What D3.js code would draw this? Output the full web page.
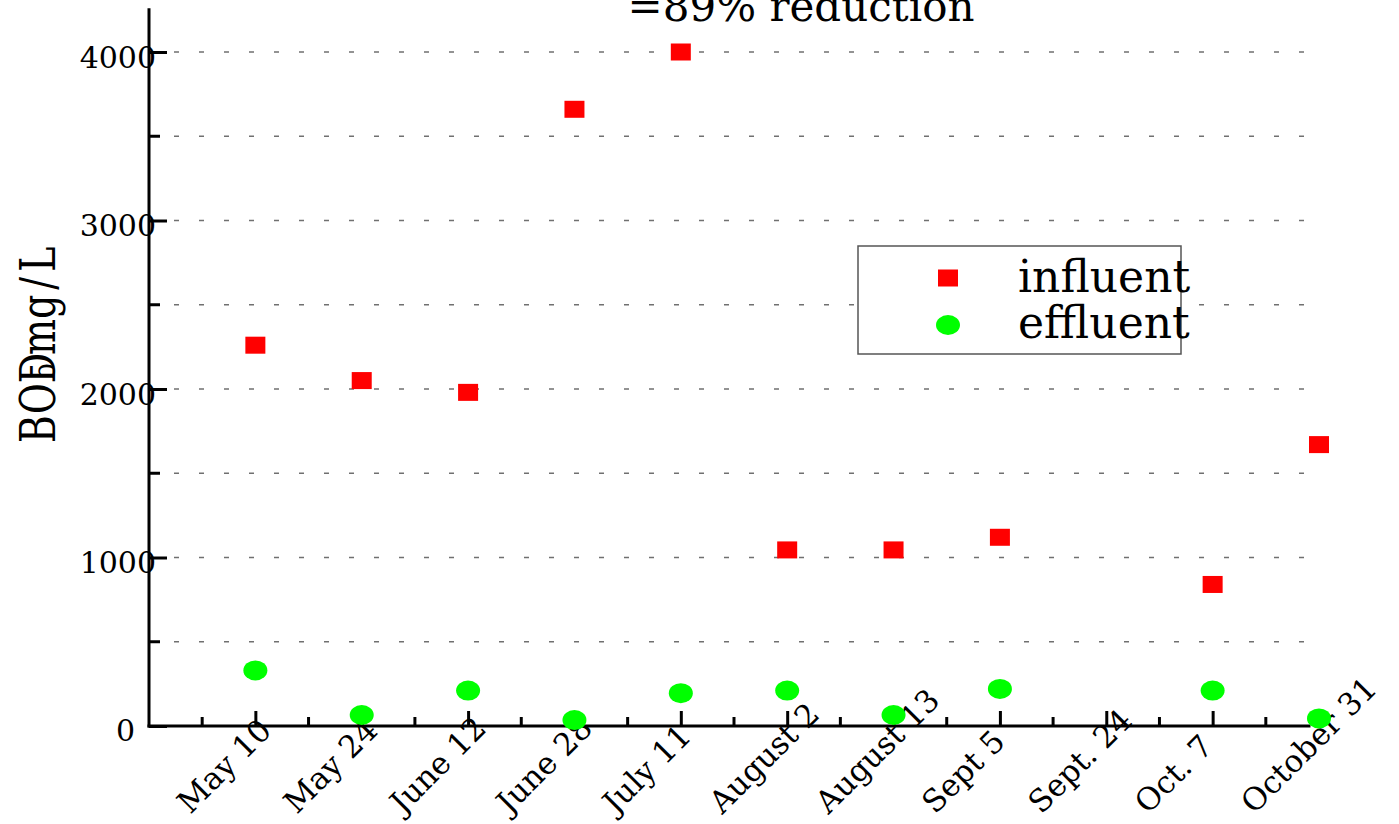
<!DOCTYPE html>
<html>
<head>
<meta charset="utf-8">
<script src="https://cdn.jsdelivr.net/npm/d3@7"></script>
<style>
  html, body { margin: 0; padding: 0; background: #fff; }
  svg { display: block; }
  text { font-family: "DejaVu Serif", serif; fill: #000; }
</style>
</head>
<body>
<svg id="chart" width="1399" height="824"></svg>
<script>
// ---- data ----
const categories = ["May 10", "May 24", "June 12", "June 28", "July 11", "August 2",
                    "August 13", "Sept 5", "Sept. 24", "Oct. 7", "October 31"];
const influent = [2260, 2050, 1980, 3660, 4000, 1045, 1045, 1120, null, 840, 1670];
const effluent = [330, 65, 210, 35, 195, 210, 65, 220, null, 210, 45];
const yMajorTicks = [0, 1000, 2000, 3000, 4000];
const yMinorTicks = [500, 1500, 2500, 3500];
const gridValues = [500, 1000, 1500, 2000, 2500, 3000, 3500, 4000];
const seriesNames = ["influent", "effluent"];
const titleText = "=89% reduction";

// ---- layout ----
const svg = d3.select("#chart");
const x = d3.scaleLinear().domain([0, categories.length]).range([149, 1319]);
const y = d3.scaleLinear().domain([0, 4000]).range([726, 52]);
const xAxisEnd = 10.92;   // axis line stops just short of the last category
const yAxisTop = 4260;

// grid lines
svg.append("g").selectAll("line").data(gridValues).join("line")
  .attr("x1", x(0)).attr("x2", x(xAxisEnd) - 3)
  .attr("y1", d => y(d)).attr("y2", d => y(d))
  .attr("stroke", "#707070").attr("stroke-width", 1.6)
  .attr("stroke-dasharray", "5,20");

// y axis
const yAxis = d3.axisLeft(y).tickValues(yMajorTicks).tickSizeInner(-18).tickSizeOuter(0)
  .tickPadding(-7).tickFormat(d3.format("d"));
const gy = svg.append("g").attr("transform", `translate(${x(0)},0)`).call(yAxis);
gy.select(".domain").remove();
gy.selectAll(".tick line").attr("stroke", "#000").attr("stroke-width", 3);
gy.selectAll(".tick text")
  .attr("font-family", "DejaVu Serif").attr("font-size", 30)
  .attr("dy", "0.5em")
  .attr("x", d => d === 0 ? -14 : 7);
gy.selectAll(".tick").filter(d => d === 0).select("text").attr("dy", "0.47em");
svg.append("g").selectAll("line").data(yMinorTicks).join("line")
  .attr("x1", x(0)).attr("x2", x(0) + 11)
  .attr("y1", d => y(d)).attr("y2", d => y(d))
  .attr("stroke", "#000").attr("stroke-width", 3);
svg.append("line")
  .attr("x1", x(0)).attr("x2", x(0))
  .attr("y1", y(0) + 1.5).attr("y2", y(yAxisTop))
  .attr("stroke", "#000").attr("stroke-width", 3);

// x axis
const majorX = d3.range(1, categories.length + 1).filter(v => v <= xAxisEnd);
const minorX = d3.range(0.5, xAxisEnd, 1);
const xAxis = d3.axisBottom(x).tickValues(majorX).tickSizeInner(-15).tickSizeOuter(0).tickFormat("");
const gx = svg.append("g").attr("transform", `translate(0,${y(0)})`).call(xAxis);
gx.select(".domain").remove();
gx.selectAll(".tick line").attr("stroke", "#000").attr("stroke-width", 3);
svg.append("g").selectAll("line").data(minorX).join("line")
  .attr("x1", d => x(d)).attr("x2", d => x(d))
  .attr("y1", y(0)).attr("y2", y(0) - 9)
  .attr("stroke", "#000").attr("stroke-width", 3);
svg.append("line")
  .attr("x1", x(0) - 1.5).attr("x2", x(xAxisEnd))
  .attr("y1", y(0)).attr("y2", y(0))
  .attr("stroke", "#000").attr("stroke-width", 3);

// x labels
svg.append("g").selectAll("text").data(categories).join("text")
  .attr("transform", (d, i) => `translate(${x(i + 1) - 65},${y(0) + 89}) rotate(-45)`)
  .attr("font-size", 31).attr("text-anchor", "start")
  .text(d => d);

// data points
const pts = categories.map((c, i) => ({ i, inf: influent[i], eff: effluent[i] }));
svg.append("g").selectAll("rect").data(pts.filter(p => p.inf != null)).join("rect")
  .attr("x", p => x(p.i + 1) - 10).attr("y", p => y(p.inf) - 8.5)
  .attr("width", 20).attr("height", 17).attr("fill", "#ff0000");
svg.append("g").selectAll("ellipse").data(pts.filter(p => p.eff != null)).join("ellipse")
  .attr("cx", p => x(p.i + 1)).attr("cy", p => y(p.eff))
  .attr("rx", 12).attr("ry", 10).attr("fill", "#00ff00");

// legend
const lg = svg.append("g").attr("transform", "translate(858,246)");
lg.append("rect").attr("width", 323).attr("height", 108)
  .attr("fill", "#fff").attr("stroke", "#555").attr("stroke-width", 1.5);
lg.append("rect").attr("x", 80).attr("y", 23.5).attr("width", 20).attr("height", 17).attr("fill", "#ff0000");
lg.append("ellipse").attr("cx", 90).attr("cy", 79).attr("rx", 12).attr("ry", 10).attr("fill", "#00ff00");
lg.selectAll("text.lab").data(seriesNames).join("text").attr("class", "lab")
  .attr("x", 160).attr("y", (d, i) => 46 + i * 46)
  .attr("font-size", 44).text(d => d);

// title (clipped at the top, as in the reference)
svg.append("text").attr("x", 801).attr("y", 21).attr("text-anchor", "middle")
  .attr("font-size", 42).text(titleText);

// y axis label (BOD with subscript 5, overlapping as in the reference)
const yl = svg.append("g").attr("transform", "translate(55,443) rotate(-90) scale(1,1.3)");
yl.append("text").attr("x", 0).attr("y", 0).attr("font-size", 38).text("BOD");
yl.append("text").attr("x", 64).attr("y", 0).attr("font-size", 26).text("5");
const unit = yl.append("text").attr("x", 88).attr("y", 0).attr("font-size", 38);
unit.append("tspan").text("mg");
unit.append("tspan").attr("dx", 5).text("/");
unit.append("tspan").attr("dx", 5).text("L");
</script>
</body>
</html>
